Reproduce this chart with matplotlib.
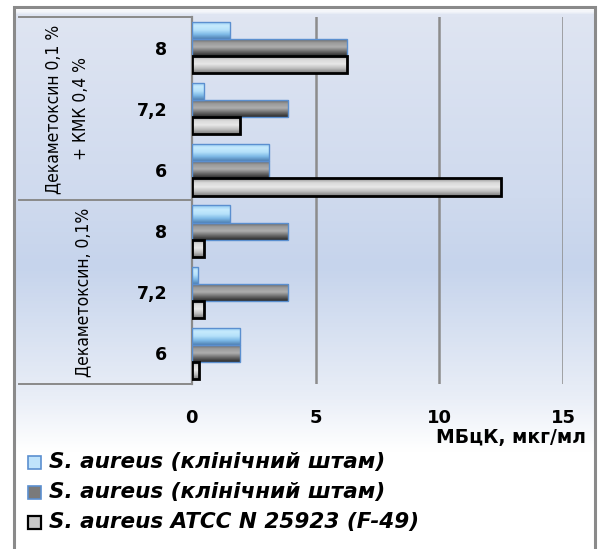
import numpy as np
import matplotlib
matplotlib.use("Agg")
import matplotlib.pyplot as plt
from matplotlib.colors import LinearSegmentedColormap
from matplotlib.patches import Rectangle
import matplotlib.transforms as mtransforms
from matplotlib import font_manager

# ---- data -------------------------------------------------------------
ph_labels = ["6", "7,2", "8", "6", "7,2", "8"]          # bottom -> top
group_labels = ["Декаметоксин, 0,1%", "Декаметоксин 0,1 %\n+ КМК 0,4 %"]
series_names = ["S. aureus (клінічний штам)",
                "S. aureus (клінічний штам)",
                "S. aureus ATCC N 25923 (F-49)"]
clinical_a = [1.95, 0.25, 1.56, 3.125, 0.5, 1.56]
clinical_b = [1.95, 3.9, 3.9, 3.125, 3.9, 6.25]
atcc = [0.3, 0.5, 0.5, 12.5, 1.95, 6.25]
x_ticks = [0, 5, 10, 15]
x_label = "МБцК, мкг/мл"

W, H, DPI = 598, 549, 100
fig = plt.figure(figsize=(W / DPI, H / DPI), dpi=DPI)

# narrow face for the rotated group captions
fonts = font_manager.fontManager.ttflist
names = {f.name for f in fonts}
if "Liberation Sans Narrow" in names:
    cap_font = dict(family=["Liberation Sans Narrow", "DejaVu Sans"], fontsize=14.5)
elif any(f.name == "DejaVu Sans" and f.stretch == "condensed" for f in fonts):
    cap_font = dict(family=["DejaVu Sans"], fontstretch="condensed", fontsize=12.5)
else:
    cap_font = dict(family=["Liberation Sans", "DejaVu Sans"], fontsize=13)

# ---- background panel (pixel coordinates) ------------------------------
bg = fig.add_axes([0, 0, 1, 1])
bg.set_xlim(0, W)
bg.set_ylim(H, 0)
bg.axis("off")
stops = [(0.0, "#ffffff"), (0.012, "#dfe5f2"), (0.35, "#cfdaee"),
         (0.48, "#c6d4ec"), (0.72, "#e9eef7"), (0.82, "#ffffff"), (1.0, "#ffffff")]
bg_cmap = LinearSegmentedColormap.from_list("panel", stops)
grad = np.linspace(0, 1, 400).reshape(-1, 1)
bg.imshow(grad, cmap=bg_cmap, extent=(14, 595, H, 7), aspect="auto", zorder=0)
bg.plot([14, 14, 595, 595], [H, 7, 7, H], color="#8a8a8a", lw=2.2, zorder=1,
        solid_joinstyle="miter")
bg.set_xlim(0, W)
bg.set_ylim(H, 0)

# ---- main axes ----------------------------------------------------------
x0_px, x15_px, top_px, bot_px = 191.7, 563.3, 17, 384
ax = fig.add_axes([x0_px / W, (H - bot_px) / H, (x15_px - x0_px) / W, (bot_px - top_px) / H])
ax.patch.set_alpha(0)

y = np.arange(len(ph_labels))
bh = 0.28
# shading colours listed top -> bottom of each bar
specs = [
    (clinical_a, bh, ["#8fcaf2", "#c6eafd", "#b5e1fa", "#7db9e6", "#4f7fb0"], "#5b8fcf", 1.0),
    (clinical_b, 0.0, ["#5a5a5a", "#9a9a9a", "#aeaeae", "#6a6a6a", "#2a2a2a"], "#5b8fcf", 1.0),
    (atcc, -bh, ["#8a8a8a", "#d9d9d9", "#e8e8e8", "#bcbcbc", "#7a7a7a"], "#000000", 2.0),
]

for vals, off, cols, edge, lw in specs:
    cm = LinearSegmentedColormap.from_list("bar", cols[::-1])
    bars = ax.barh(y + off, vals, height=bh, facecolor="none", edgecolor=edge,
                   linewidth=lw, zorder=4)
    for b in bars:
        bx, by = b.get_x(), b.get_y()
        bw, bhh = b.get_width(), b.get_height()
        im = ax.imshow(np.linspace(0, 1, 64).reshape(-1, 1), cmap=cm,
                       extent=(bx, bx + bw, by, by + bhh), aspect="auto",
                       origin="lower", zorder=3)
        im.set_clip_path(b)

ax.set_xlim(0, 15)
ax.set_ylim(-0.5, len(ph_labels) - 0.5)
ax.set_xticks(x_ticks)
ax.set_xticklabels([str(t) for t in x_ticks], fontsize=13, fontweight="bold")
ax.set_yticks(y)
ax.set_yticklabels(ph_labels, fontsize=12.5, fontweight="bold")
ax.tick_params(axis="x", length=0, pad=18)
ax.tick_params(axis="y", length=0, pad=17.5)
for s in ["top", "right", "bottom"]:
    ax.spines[s].set_visible(False)
ax.spines["left"].set_color("#8a8a8a")
ax.spines["left"].set_linewidth(1.6)
for xv in x_ticks[1:]:
    ax.axvline(xv, color="#8c8c8c", lw=1.8, zorder=1)

# category table lines on the left
tr = mtransforms.blended_transform_factory(fig.transFigure, ax.transData)
for yv in [-0.5, 2.5, len(ph_labels) - 0.5]:
    ax.plot([19 / W, x0_px / W], [yv, yv], transform=tr, color="#8a8a8a",
            lw=1.4, clip_on=False, zorder=2)

# group captions
fig.text(83 / W, 1 - 292 / H, group_labels[0], rotation=90, ha="center", va="center",
         **cap_font)
fig.text(67 / W, 1 - 109 / H, group_labels[1], rotation=90, ha="center", va="center",
         linespacing=1.7, multialignment="center", **cap_font)

# axis title
fig.text(586 / W, 1 - 437 / H, x_label, ha="right", va="center",
         fontsize=13.5, fontweight="bold")

# legend
leg_y = [462, 492, 522]
leg_face = ["#bfe3fb", "#7a7a7a", "#c8c8c8"]
leg_edge = ["#5b8fcf", "#5b8fcf", "#000000"]
for yy, name, fc, ec in zip(leg_y, series_names, leg_face, leg_edge):
    bg.add_patch(Rectangle((28, yy - 6.5), 13, 13, facecolor=fc, edgecolor=ec,
                           lw=1.6 if ec == "#000000" else 1.2, zorder=3))
    bg.text(49, yy, name, ha="left", va="center", fontsize=15.5, style="italic",
            fontweight="bold", zorder=3)

fig.savefig("out.png", dpi=DPI)
